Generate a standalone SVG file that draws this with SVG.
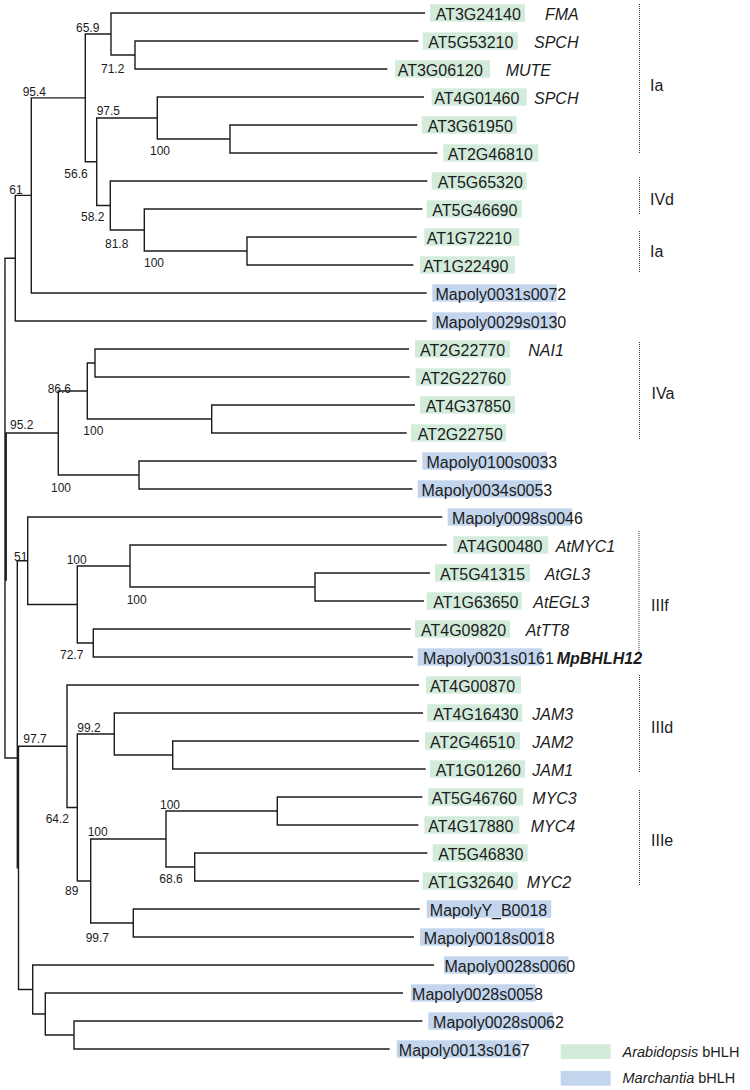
<svg xmlns="http://www.w3.org/2000/svg" width="750" height="1090" viewBox="0 0 750 1090">
<style>
.br{stroke:#1c1c1c;stroke-width:1.4;fill:none;stroke-linecap:square}
.ga{fill:#d3ebdb}
.mb{fill:#c2d5ed}
text{font-family:"Liberation Sans",Arial,sans-serif;fill:#1c1c1c}
.lb{font-size:16px}
.gn{font-size:16px;font-style:italic}
.bd{font-weight:bold}
.sp{font-size:12px}
.dt{stroke:#333;stroke-width:1;stroke-dasharray:1 1;fill:none}
.lg{font-size:14.5px}
</style>
<rect width="750" height="1090" fill="#fff"/>
<g id="connectors">
<path class="br" d="
M111,13H424.3 M135,41H417.7 M135,69H386.7 M157.3,97H423.3 M230,125H416.7 M230,153H436.7
M110.3,181H426.7 M144.3,209H421.7 M247,237H416 M247,265H412.7 M31.3,293H426 M15.3,321H426
M95,349H408.3 M95,377H409 M211.7,405H414.3 M211.7,433H406 M139,461H416 M139,489H411.7
M27.7,517H441.7 M130,545H446 M315,573H429.3 M315,601H423.3 M93.3,629H410 M93.3,657H412.3
M67,685H418.3 M114.3,713H422.3 M172.7,741H418.3 M172.7,769H425 M277.3,797H421.7 M277.3,825H417.7
M194.7,853H426.7 M194.7,881H418.3 M133.3,909H419 M133.3,937H413.3 M32.7,965H433.3 M45.3,993H402.3
M74,1021H421.7 M74,1049H389
M111,55H135 M85.3,34H111 M157.3,139H230 M96.7,118H157.3 M144.3,251H247 M110.3,230H144.3
M96.7,205.5H110.3 M85.3,161.75H96.7 M31.3,97.9H85.3 M15.3,195.4H31.3 M5,258.2H15.3
M87.3,363H95 M87.3,419H211.7 M58.3,391H87.3 M58.3,475H139 M6.2,433H58.3
M130,587H315 M77.3,566H130 M77.3,643H93.3 M27.7,604.5H77.3 M17.3,560.75H27.7
M114.3,755H172.7 M77.3,734H114.3 M166,811H277.3 M166,867H194.7 M90.7,839H166 M90.7,923H133.3
M77.3,881H90.7 M67,807.5H77.3 M18.5,746.25H67 M45.3,1035H74 M32.7,1014H45.3 M18.5,989.5H32.7 M5,758H17.3
M135,41V69 M111,13V55 M230,125V153 M157.3,97V139 M247,237V265 M144.3,209V251 M110.3,181V230
M96.7,118V205.5 M85.3,34V161.75 M31.3,97.9V293 M15.3,195.4V321 M5,258.2V758 M6.2,433V580
M95,349V377 M211.7,405V433 M87.3,363V419 M139,461V489 M58.3,391V475
M315,573V601 M130,545V587 M93.3,629V657 M77.3,566V643 M27.7,517V604.5
M17.3,560.75V867.9 M18.5,746.25V989.5
M172.7,741V769 M114.3,713V755 M277.3,797V825 M194.7,853V881 M166,811V867 M133.3,909V937
M90.7,839V923 M77.3,734V881 M67,685V807.5 M74,1021V1049 M45.3,993V1035 M32.7,965V1014"/>
</g>
<g id="support" class="sp">
<text class="sp" x="76" y="31.5">65.9</text>
<text class="sp" x="101" y="72.5">71.2</text>
<text class="sp" x="22.7" y="95.5">95.4</text>
<text class="sp" x="96.7" y="115">97.5</text>
<text class="sp" x="150" y="155.3">100</text>
<text class="sp" x="64.3" y="177.5">56.6</text>
<text class="sp" x="9.3" y="194">61</text>
<text class="sp" x="81" y="221">58.2</text>
<text class="sp" x="105" y="248.3">81.8</text>
<text class="sp" x="144" y="267.3">100</text>
<text class="sp" x="47.7" y="392.5">86.6</text>
<text class="sp" x="10" y="429.3">95.2</text>
<text class="sp" x="83.3" y="435">100</text>
<text class="sp" x="51" y="492.3">100</text>
<text class="sp" x="14" y="561.3">51</text>
<text class="sp" x="66.7" y="564">100</text>
<text class="sp" x="126.7" y="604.3">100</text>
<text class="sp" x="60" y="659.3">72.7</text>
<text class="sp" x="77.3" y="732.3">99.2</text>
<text class="sp" x="23.3" y="743.3">97.7</text>
<text class="sp" x="45.7" y="823.3">64.2</text>
<text class="sp" x="87.7" y="836">100</text>
<text class="sp" x="160" y="809.3">100</text>
<text class="sp" x="65" y="895">89</text>
<text class="sp" x="159.3" y="882.7">68.6</text>
<text class="sp" x="85.7" y="941.7">99.7</text>
</g>
<g id="leaf-AT3G24140"><rect class="ga" x="430" y="4.3" width="95" height="17.4"/><text class="lb" x="435.7" y="20">AT3G24140</text><text class="gn" x="545" y="20">FMA</text></g>
<g id="leaf-AT5G53210"><rect class="ga" x="422.7" y="32.3" width="95" height="17.4"/><text class="lb" x="428.3" y="48">AT5G53210</text><text class="gn" x="534" y="48">SPCH</text></g>
<g id="leaf-AT3G06120"><rect class="ga" x="395" y="60.3" width="95" height="17.4"/><text class="lb" x="397.7" y="76">AT3G06120</text><text class="gn" x="505.7" y="76">MUTE</text></g>
<g id="leaf-AT4G01460"><rect class="ga" x="431.7" y="88.3" width="95" height="17.4"/><text class="lb" x="434.3" y="104">AT4G01460</text><text class="gn" x="534" y="104">SPCH</text></g>
<g id="leaf-AT3G61950"><rect class="ga" x="421.7" y="116.3" width="95" height="17.4"/><text class="lb" x="427.7" y="132">AT3G61950</text></g>
<g id="leaf-AT2G46810"><rect class="ga" x="443.3" y="144.3" width="95" height="17.4"/><text class="lb" x="447.7" y="160">AT2G46810</text></g>
<g id="leaf-AT5G65320"><rect class="ga" x="431.7" y="172.3" width="95" height="17.4"/><text class="lb" x="437.7" y="188">AT5G65320</text></g>
<g id="leaf-AT5G46690"><rect class="ga" x="426.7" y="200.3" width="95" height="17.4"/><text class="lb" x="432.3" y="216">AT5G46690</text></g>
<g id="leaf-AT1G72210"><rect class="ga" x="424.3" y="228.3" width="95" height="17.4"/><text class="lb" x="426.7" y="244">AT1G72210</text></g>
<g id="leaf-AT1G22490"><rect class="ga" x="420" y="256.3" width="95" height="17.4"/><text class="lb" x="423.3" y="272">AT1G22490</text></g>
<g id="leaf-Mapoly0031s0072"><rect class="mb" x="432.3" y="284.3" width="124.5" height="17.4"/><text class="lb" x="435.5" y="300">Mapoly0031s0072</text></g>
<g id="leaf-Mapoly0029s0130"><rect class="mb" x="432.3" y="312.3" width="124.5" height="17.4"/><text class="lb" x="435.5" y="328">Mapoly0029s0130</text></g>
<g id="leaf-AT2G22770"><rect class="ga" x="415" y="340.3" width="95" height="17.4"/><text class="lb" x="420" y="356">AT2G22770</text><text class="gn" x="528.3" y="356">NAI1</text></g>
<g id="leaf-AT2G22760"><rect class="ga" x="415.7" y="368.3" width="95" height="17.4"/><text class="lb" x="420.7" y="384">AT2G22760</text></g>
<g id="leaf-AT4G37850"><rect class="ga" x="420" y="396.3" width="95" height="17.4"/><text class="lb" x="425.7" y="412">AT4G37850</text></g>
<g id="leaf-AT2G22750"><rect class="ga" x="411" y="424.3" width="95" height="17.4"/><text class="lb" x="417.7" y="440">AT2G22750</text></g>
<g id="leaf-Mapoly0100s0033"><rect class="mb" x="422.3" y="452.3" width="124.5" height="17.4"/><text class="lb" x="426.5" y="468">Mapoly0100s0033</text></g>
<g id="leaf-Mapoly0034s0053"><rect class="mb" x="417.7" y="480.3" width="124.5" height="17.4"/><text class="lb" x="421.5" y="496">Mapoly0034s0053</text></g>
<g id="leaf-Mapoly0098s0046"><rect class="mb" x="447.7" y="508.3" width="124.5" height="17.4"/><text class="lb" x="452.1" y="524">Mapoly0098s0046</text></g>
<g id="leaf-AT4G00480"><rect class="ga" x="453.3" y="536.3" width="95" height="17.4"/><text class="lb" x="457.3" y="552">AT4G00480</text><text class="gn" x="555.7" y="552">AtMYC1</text></g>
<g id="leaf-AT5G41315"><rect class="ga" x="435" y="564.3" width="95" height="17.4"/><text class="lb" x="440" y="580">AT5G41315</text><text class="gn" x="544.7" y="580">AtGL3</text></g>
<g id="leaf-AT1G63650"><rect class="ga" x="426.7" y="592.3" width="95" height="17.4"/><text class="lb" x="433.3" y="608">AT1G63650</text><text class="gn" x="533.3" y="608">AtEGL3</text></g>
<g id="leaf-AT4G09820"><rect class="ga" x="415" y="620.3" width="95" height="17.4"/><text class="lb" x="421" y="636">AT4G09820</text><text class="gn" x="525.7" y="636">AtTT8</text></g>
<g id="leaf-Mapoly0031s0161"><rect class="mb" x="417.7" y="648.3" width="124.5" height="17.4"/><text class="lb" x="423.1" y="664">Mapoly0031s0161</text><text class="gn bd" x="556.7" y="664">MpBHLH12</text></g>
<g id="leaf-AT4G00870"><rect class="ga" x="426" y="676.3" width="95" height="17.4"/><text class="lb" x="430" y="692">AT4G00870</text></g>
<g id="leaf-AT4G16430"><rect class="ga" x="427.3" y="704.3" width="95" height="17.4"/><text class="lb" x="433.3" y="720">AT4G16430</text><text class="gn" x="532.3" y="720">JAM3</text></g>
<g id="leaf-AT2G46510"><rect class="ga" x="425" y="732.3" width="95" height="17.4"/><text class="lb" x="430" y="748">AT2G46510</text><text class="gn" x="532.3" y="748">JAM2</text></g>
<g id="leaf-AT1G01260"><rect class="ga" x="430" y="760.3" width="95" height="17.4"/><text class="lb" x="435.7" y="776">AT1G01260</text><text class="gn" x="532.3" y="776">JAM1</text></g>
<g id="leaf-AT5G46760"><rect class="ga" x="428.3" y="788.3" width="95" height="17.4"/><text class="lb" x="431.7" y="804">AT5G46760</text><text class="gn" x="532.3" y="804">MYC3</text></g>
<g id="leaf-AT4G17880"><rect class="ga" x="424.3" y="816.3" width="95" height="17.4"/><text class="lb" x="428.3" y="832">AT4G17880</text><text class="gn" x="530.7" y="832">MYC4</text></g>
<g id="leaf-AT5G46830"><rect class="ga" x="432.7" y="844.3" width="95" height="17.4"/><text class="lb" x="438.3" y="860">AT5G46830</text></g>
<g id="leaf-AT1G32640"><rect class="ga" x="422.7" y="872.3" width="95" height="17.4"/><text class="lb" x="428.3" y="888">AT1G32640</text><text class="gn" x="526.7" y="888">MYC2</text></g>
<g id="leaf-MapolyY_B0018"><rect class="mb" x="426.7" y="900.3" width="124.5" height="17.4"/><text class="lb" x="429.8" y="916">MapolyY_B0018</text></g>
<g id="leaf-Mapoly0018s0018"><rect class="mb" x="420" y="928.3" width="124.5" height="17.4"/><text class="lb" x="423.8" y="944">Mapoly0018s0018</text></g>
<g id="leaf-Mapoly0028s0060"><rect class="mb" x="444" y="956.3" width="124.5" height="17.4"/><text class="lb" x="444.5" y="972">Mapoly0028s0060</text></g>
<g id="leaf-Mapoly0028s0058"><rect class="mb" x="411" y="984.3" width="124.5" height="17.4"/><text class="lb" x="412.1" y="1000">Mapoly0028s0058</text></g>
<g id="leaf-Mapoly0028s0062"><rect class="mb" x="428.3" y="1012.3" width="124.5" height="17.4"/><text class="lb" x="433.1" y="1028">Mapoly0028s0062</text></g>
<g id="leaf-Mapoly0013s0167"><rect class="mb" x="396.7" y="1040.3" width="124.5" height="17.4"/><text class="lb" x="398.8" y="1056">Mapoly0013s0167</text></g>
<g id="clade-Ia-1"><path class="dt" d="M639.5,4V154"/><text class="lb" x="650" y="90.7">Ia</text></g>
<g id="clade-IVd"><path class="dt" d="M639.5,177V215"/><text class="lb" x="650" y="205">IVd</text></g>
<g id="clade-Ia-2"><path class="dt" d="M639.5,231V273"/><text class="lb" x="650" y="257.3">Ia</text></g>
<g id="clade-IVa"><path class="dt" d="M639.5,342V439"/><text class="lb" x="651.5" y="399">IVa</text></g>
<g id="clade-IIIf"><path class="dt" d="M639,531V654"/><text class="lb" x="651" y="611">IIIf</text></g>
<g id="clade-IIId"><path class="dt" d="M639.5,675V773"/><text class="lb" x="651" y="733.3">IIId</text></g>
<g id="clade-IIIe"><path class="dt" d="M639.5,790V885"/><text class="lb" x="651" y="845.7">IIIe</text></g>
<g id="legend">
<rect class="ga" x="560.7" y="1044.3" width="50" height="14.7"/>
<text class="lg" x="622.5" y="1056.5"><tspan font-style="italic">Arabidopsis</tspan> bHLH</text>
<rect class="mb" x="560.7" y="1071" width="50" height="14.7"/>
<text class="lg" x="622.5" y="1083.3"><tspan font-style="italic">Marchantia</tspan> bHLH</text>
</g>
</svg>
